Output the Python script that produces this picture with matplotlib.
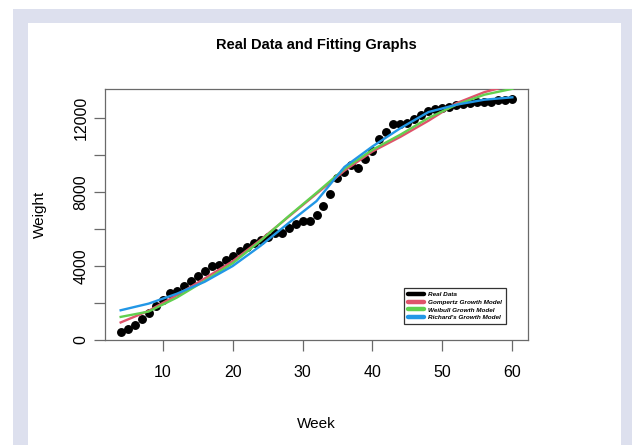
import matplotlib
matplotlib.use("Agg")
import matplotlib.pyplot as plt
from matplotlib.patches import Rectangle

plt.rcParams["font.family"] = ["Liberation Sans", "DejaVu Sans"]

# ---- data -------------------------------------------------------------------
weeks = list(range(4, 61))
weight = [400, 580, 790, 1120, 1450, 1820, 2140, 2520, 2610, 2900,
          3190, 3460, 3740, 4000, 4020, 4310, 4540, 4810, 5010, 5230,
          5390, 5550, 5780, 5760, 6030, 6250, 6430, 6430, 6750, 7240,
          7910, 8750, 9100, 9460, 9310, 9790, 10200, 10870, 11240, 11670,
          11670, 11750, 11970, 12140, 12370, 12480, 12560, 12590, 12720, 12740,
          12800, 12860, 12860, 12880, 13000, 13000, 13030]

fit_weeks = [4, 8, 12, 16, 20, 24, 28, 32, 36, 40, 44, 48, 52, 56, 60]
gompertz = [930, 1560, 2400, 3310, 4240, 5400, 6650, 7900, 9150, 10190,
            10980, 11850, 12800, 13400, 13800]
weibull = [1230, 1520, 2270, 3180, 4130, 5350, 6680, 7950, 9250, 10280,
           11100, 12000, 12720, 13260, 13580]
richards = [1590, 1950, 2480, 3130, 3980, 5080, 6310, 7500, 9350, 10460,
            11450, 12320, 12720, 12990, 13120]

yticks = [0, 2000, 4000, 6000, 8000, 10000, 12000]
ylabels = ["0", "", "4000", "", "8000", "", "12000"]
xticks = [10, 20, 30, 40, 50, 60]

RED, GREEN, BLUE = "#DF536B", "#61D04F", "#2297E6"
GRAY = "#6a6a6a"

fig = plt.figure(figsize=(6.38, 4.45), dpi=100, facecolor="white")
# lavender frame around the white panel
fig.patches.append(Rectangle((13 / 638, 0), 619 / 638, 436 / 445, transform=fig.transFigure,
                             facecolor="#dde0ee", edgecolor="none", zorder=-2))
fig.patches.append(Rectangle((28 / 638, 0), 593 / 638, 422 / 445, transform=fig.transFigure,
                             facecolor="white", edgecolor="none", zorder=-1))

ax = fig.add_axes([105 / 638, 1 - 340 / 445, 423 / 638, 251 / 445])
ax.set_facecolor("white")

ax.plot(weeks, weight, "o", ms=5.4, color="black", label="Real Data", zorder=3)
ax.plot(fit_weeks, gompertz, "-", lw=1.7, color=RED, label="Gompertz Growth Model", zorder=4)
ax.plot(fit_weeks, weibull, "-", lw=1.7, color=GREEN, label="Weibull Growth Model", zorder=5)
ax.plot(fit_weeks, richards, "-", lw=1.7, color=BLUE, label="Richard's Growth Model", zorder=6)

ax.set_xlim(1.76, 62.24)
ax.set_ylim(-20, 13570)
ax.set_xticks(xticks)
ax.set_xticklabels([str(t) for t in xticks])
ax.set_yticks(yticks)
ax.set_yticklabels(ylabels, rotation=90, va="center")
ax.tick_params(axis="both", colors=GRAY, labelcolor="black", labelsize=11.5, length=8, width=0.9)
ax.tick_params(axis="x", pad=10)
ax.tick_params(axis="y", pad=4)
for s in ax.spines.values():
    s.set_color(GRAY)
    s.set_linewidth(0.9)

ax.set_xlabel("Week", fontsize=11, labelpad=27)
ax.set_ylabel("Weight", fontsize=11, labelpad=19)
ax.set_title("Real Data and Fitting Graphs", fontsize=10.5, fontweight="bold", pad=29)

h = [plt.Line2D([], [], color=c, lw=3.2, solid_capstyle="round")
     for c in ["black", RED, GREEN, BLUE]]
leg = ax.legend(h, ["Real Data", "Gompertz Growth Model", "Weibull Growth Model",
                    "Richard's Growth Model"],
                loc="upper right", bbox_to_anchor=(506 / 638, 1 - 288 / 445),
                bbox_transform=fig.transFigure, borderaxespad=0,
                prop={"size": 4.6, "weight": "bold", "style": "italic"},
                fancybox=False, framealpha=1, edgecolor="#333333",
                handlelength=2.6, handletextpad=0.6, labelspacing=0.35,
                borderpad=0.6)
leg.get_frame().set_linewidth(0.9)

fig.savefig("out.png", dpi=100, facecolor="white")
